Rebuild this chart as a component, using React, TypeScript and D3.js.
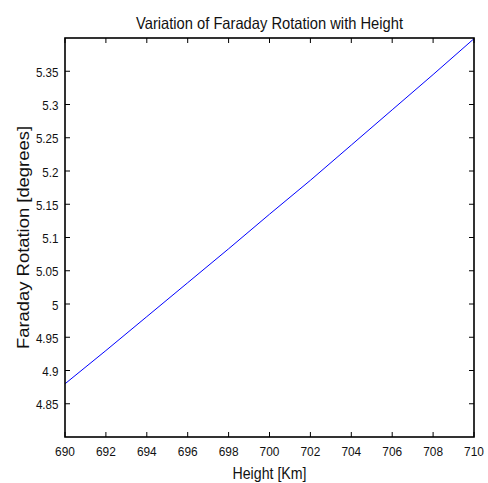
import React, { useEffect, useRef } from "react";
import * as d3 from "d3";

// Faraday rotation vs. height, MATLAB-style line plot drawn with D3.
const heights = [690, 692, 694, 696, 698, 700, 702, 704, 706, 708, 710];
const rotation = [4.88, 4.93, 4.981, 5.032, 5.083, 5.135, 5.186, 5.239, 5.292, 5.345, 5.399];
const xTicks = [690, 692, 694, 696, 698, 700, 702, 704, 706, 708, 710];
const yTicks = [4.85, 4.9, 4.95, 5, 5.05, 5.1, 5.15, 5.2, 5.25, 5.3, 5.35];
const yTickLabels = ["4.85", "4.9", "4.95", "5", "5.05", "5.1", "5.15", "5.2", "5.25", "5.3", "5.35"];
const title = "Variation of Faraday Rotation with Height";
const xLabel = "Height [Km]";
const yLabel = "Faraday Rotation [degrees]";

export default function App() {
  const ref = useRef<SVGSVGElement | null>(null);

  useEffect(() => {
    const svg = d3.select(ref.current);
    svg.selectAll("*").remove();

    const left = 65;
    const right = 474;
    const top = 38;
    const bottom = 437;
    const font = "'Liberation Sans', Arial, sans-serif";
    const tickLen = 5;

    const x = d3.scaleLinear().domain([690, 710]).range([left, right]);
    const y = d3.scaleLinear().domain([4.8, 5.4]).range([bottom, top]);

    svg.append("rect").attr("width", 488).attr("height", 483).attr("fill", "#fff");

    // data line
    const line = d3
      .line<number>()
      .x((_, i) => x(heights[i]))
      .y((d) => y(d));
    svg
      .append("path")
      .datum(rotation)
      .attr("fill", "none")
      .attr("stroke", "#0000ff")
      .attr("stroke-width", 1)
      .attr("d", line);

    // box
    svg
      .append("rect")
      .attr("x", left)
      .attr("y", top)
      .attr("width", right - left)
      .attr("height", bottom - top)
      .attr("fill", "none")
      .attr("stroke", "#000")
      .attr("stroke-width", 1.6);

    const g = svg.append("g").attr("stroke", "#000").attr("stroke-width", 1);
    // ticks point inward on all four sides
    xTicks.forEach((t) => {
      g.append("line").attr("x1", x(t)).attr("x2", x(t)).attr("y1", bottom).attr("y2", bottom - tickLen);
      g.append("line").attr("x1", x(t)).attr("x2", x(t)).attr("y1", top).attr("y2", top + tickLen);
    });
    yTicks.forEach((t) => {
      g.append("line").attr("x1", left).attr("x2", left + tickLen).attr("y1", y(t)).attr("y2", y(t));
      g.append("line").attr("x1", right).attr("x2", right - tickLen).attr("y1", y(t)).attr("y2", y(t));
    });

    // condense tick labels a bit, like the squeezed MATLAB export
    const squeeze = (sel: d3.Selection<SVGTextElement, any, any, any>, k: number) =>
      sel.each(function () {
        const w = this.getComputedTextLength();
        d3.select(this).attr("textLength", w * k).attr("lengthAdjust", "spacingAndGlyphs");
      });

    svg
      .append("g")
      .selectAll("text")
      .data(xTicks)
      .join("text")
      .attr("x", (d) => x(d))
      .attr("y", 456)
      .attr("text-anchor", "middle")
      .attr("font-family", font)
      .attr("font-size", 13.5)
      .attr("fill", "#111")
      .text((d) => String(d))
      .call(squeeze, 0.88);

    svg
      .append("g")
      .selectAll("text")
      .data(yTicks)
      .join("text")
      .attr("x", 58.5)
      .attr("y", (d) => y(d) + 5.5)
      .attr("text-anchor", "end")
      .attr("font-family", font)
      .attr("font-size", 13.5)
      .attr("fill", "#111")
      .text((_, i) => yTickLabels[i])
      .call(squeeze, 0.86);

    svg
      .append("text")
      .attr("x", (left + right) / 2)
      .attr("y", 28.5)
      .attr("text-anchor", "middle")
      .attr("font-family", font)
      .attr("font-size", 16.5)
      .attr("textLength", 267)
      .attr("lengthAdjust", "spacingAndGlyphs")
      .attr("fill", "#111")
      .text(title);

    svg
      .append("text")
      .attr("x", (left + right) / 2)
      .attr("y", 478.5)
      .attr("text-anchor", "middle")
      .attr("font-family", font)
      .attr("font-size", 16.5)
      .attr("textLength", 74)
      .attr("lengthAdjust", "spacingAndGlyphs")
      .attr("fill", "#111")
      .text(xLabel);

    svg
      .append("text")
      .attr("transform", `translate(28.5,${(top + bottom) / 2}) rotate(-90)`)
      .attr("text-anchor", "middle")
      .attr("font-family", font)
      .attr("font-size", 16.5)
      .attr("textLength", 223)
      .attr("lengthAdjust", "spacingAndGlyphs")
      .attr("fill", "#111")
      .text(yLabel);
  }, []);

  return (
    <svg
      ref={ref}
      width={488}
      height={483}
      style={{ position: "absolute", left: 0, top: 0, display: "block" }}
    />
  );
}
